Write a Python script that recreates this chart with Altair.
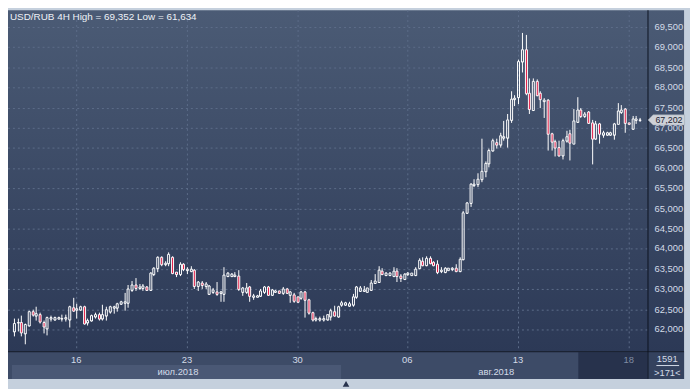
import altair as alt
import pandas as pd

# ---- data (USD/RUB, 4H bars) ----
bar_open = [61950, 62160, 62171, 61902, 62106, 62433, 62351, 62367, 62171, 62024,
            62260, 62253, 62270, 62260, 62270, 62253, 62531, 62490, 62490, 62555,
            62171, 62229, 62330, 62367, 62269, 62351, 62433, 62531, 62531, 62637,
            62662, 62662, 62988, 63103, 63021, 63021, 63045, 62988, 63372, 63511,
            63781, 63617, 63650, 63800, 63413, 63372, 63617, 63470, 63454, 63470,
            63070, 63152, 63086, 62882, 62923, 62939, 62900, 62882, 63331, 63315,
            63315, 63331, 62939, 62923, 63045, 62800, 62817, 62841, 62923, 63045,
            62857, 62939, 62947, 62898, 63005, 62866, 62857, 62800, 62776, 62939,
            62735, 62416, 62250, 62255, 62245, 62245, 62326, 62449, 62326, 62612,
            62620, 62596, 62612, 62800, 62964, 62950, 62939, 62988, 63143, 63168,
            63454, 63348, 63360, 63331, 63454, 63331, 63250, 63372, 63360, 63356,
            63511, 63699, 63593, 63756, 63674, 63617, 63438, 63429, 63480, 63495,
            63511, 63438, 63740, 64901, 65130, 65579, 65595, 65718, 65930, 66110,
            66437, 66641, 66584, 66764, 66764, 67188, 67703, 67760, 68643, 68929,
            67866, 67433, 68152, 67866, 67662, 67679, 66845, 66665, 66518, 66314,
            66681, 66861, 66616, 67155, 67433, 67294, 67392, 67131, 66722, 67090,
            66829, 66829, 66829, 66829, 67106, 67400, 67458, 67114, 66967, 67188,
            67188]
bar_high = [62270, 62269, 62351, 62150, 62474, 62490, 62555, 62408, 62229, 62310,
            62351, 62330, 62310, 62367, 62367, 62596, 62776, 62637, 62600, 62580,
            62270, 62380, 62408, 62408, 62612, 62555, 62596, 62596, 62662, 62710,
            62907, 63103, 63209, 63266, 63127, 63127, 63070, 63413, 63536, 63822,
            63822, 63699, 63903, 63822, 63429, 63658, 63642, 63536, 63560, 63495,
            63209, 63209, 63168, 63103, 63021, 63168, 62964, 63536, 63413, 63400,
            63429, 63470, 63045, 63143, 63086, 62882, 62860, 63005, 63086, 63086,
            63000, 62988, 62964, 63045, 63021, 62964, 62906, 62820, 62964, 62964,
            62760, 62449, 62310, 62310, 62335, 62380, 62514, 62596, 62596, 62719,
            62680, 62694, 62882, 63070, 63086, 63070, 63040, 63233, 63372, 63560,
            63511, 63413, 63429, 63536, 63511, 63372, 63390, 63429, 63400, 63536,
            63756, 63781, 63805, 63805, 63700, 63723, 63536, 63536, 63530, 63552,
            63617, 63781, 64950, 65171, 65636, 65718, 65865, 66723, 66175, 66478,
            66723, 66723, 66886, 67172, 67352, 67907, 67809, 68683, 69352, 69313,
            68234, 68218, 68193, 67907, 67744, 67703, 66886, 66706, 66682, 66723,
            66927, 66943, 67458, 67760, 67482, 67392, 67417, 67188, 67172, 67131,
            66927, 66900, 66900, 67131, 67621, 67564, 67498, 67130, 67294, 67294,
            67253]
bar_low = [61820, 61943, 61820, 61634, 62065, 62310, 62229, 62147, 61902, 61860,
           62188, 62230, 62250, 62188, 62200, 62049, 62440, 62270, 62470, 62122,
           62106, 62200, 62270, 62229, 62229, 62229, 62392, 62392, 62433, 62620,
           62474, 62531, 62923, 62964, 62988, 62964, 62964, 62964, 63331, 63413,
           63577, 63577, 63577, 63372, 63291, 63331, 63454, 63372, 63429, 63005,
           62964, 63005, 63005, 62866, 62882, 62841, 62678, 62678, 63290, 63300,
           63290, 62964, 62825, 62882, 62694, 62743, 62800, 62800, 62882, 62825,
           62840, 62906, 62890, 62866, 62880, 62661, 62661, 62660, 62743, 62286,
           62367, 62204, 62204, 62188, 62188, 62230, 62228, 62310, 62302, 62555,
           62600, 62555, 62555, 62760, 62923, 62923, 62920, 62964, 63127, 63152,
           63348, 63315, 63315, 63290, 63168, 63168, 63230, 63331, 63340, 63331,
           63495, 63577, 63577, 63609, 63577, 63372, 63397, 63397, 63460, 63454,
           63413, 63413, 63720, 64880, 65032, 65538, 65538, 65661, 65783, 66028,
           66420, 66478, 66518, 66682, 66518, 67131, 67540, 67581, 68381, 67809,
           67352, 67417, 67785, 67499, 67237, 66437, 66437, 66290, 66290, 66208,
           66640, 66191, 66600, 67131, 67253, 67253, 67090, 66093, 66698, 66600,
           66763, 66810, 66810, 66698, 67090, 67335, 66886, 67090, 66943, 67090,
           67155]
bar_close = [62150, 62180, 61926, 62122, 62449, 62367, 62392, 62188, 62065, 62286,
             62285, 62294, 62290, 62280, 62300, 62555, 62457, 62510, 62572, 62147,
             62229, 62351, 62360, 62269, 62367, 62490, 62555, 62555, 62637, 62694,
             62694, 63005, 63103, 63021, 63045, 63070, 62988, 63397, 63511, 63781,
             63617, 63642, 63862, 63397, 63364, 63617, 63495, 63495, 63495, 63070,
             63168, 63103, 63119, 63086, 62988, 62882, 62923, 63348, 63388, 63372,
             63360, 63005, 63021, 63021, 62825, 62841, 62841, 62964, 63045, 62857,
             62980, 62964, 62906, 63005, 62898, 62923, 62719, 62678, 62939, 62735,
             62416, 62253, 62269, 62269, 62269, 62367, 62473, 62351, 62555, 62653,
             62653, 62637, 62800, 63045, 63021, 62990, 63021, 63152, 63209, 63478,
             63372, 63388, 63388, 63454, 63315, 63266, 63372, 63397, 63390, 63495,
             63723, 63593, 63764, 63642, 63593, 63413, 63478, 63511, 63511, 63511,
             63438, 63740, 64900, 65146, 65603, 65603, 65718, 65930, 66126, 66437,
             66682, 66576, 66804, 66788, 67197, 67703, 67728, 68643, 68929, 67866,
             67458, 68152, 67809, 67703, 67679, 66845, 66665, 66518, 66314, 66682,
             66779, 66640, 67172, 67433, 67294, 67351, 67114, 66722, 67106, 66845,
             66886, 66870, 66870, 67106, 67417, 67433, 67114, 67106, 67212, 67212,
             67202]

price_ticks = [62000, 62500, 63000, 63500, 64000, 64500, 65000, 65500,
               66000, 66500, 67000, 67500, 68000, 68500, 69000, 69500]
day_labels = ["16", "23", "30", "06", "13", "18"]
day_bars = [17, 47, 77, 107, 137, 167]
month_labels = ["июл.2018", "авг.2018"]
month_start_bars = [0, 89]
title_text = "USD/RUB 4H High = 69,352 Low = 61,634"
last_price = 67202
bars_total_text = "1591"
bars_visible_text = ">171<"

# ---- tables ----
df = pd.DataFrame({"bar": list(range(len(bar_open))), "open": bar_open,
                   "high": bar_high, "low": bar_low, "close": bar_close})
df["top"] = df[["open", "close"]].max(axis=1)
df["bottom"] = df[["open", "close"]].min(axis=1)

days = pd.DataFrame({"bar": day_bars, "label": day_labels,
                     "last": [i == len(day_labels) - 1 for i in range(len(day_labels))]})
month_end = month_start_bars[1:] + [len(bar_open) + 2]
months = pd.DataFrame({"label": month_labels,
                       "center": [(a + b) / 2 for a, b in zip(month_start_bars, month_end)]})
ticks = pd.DataFrame({"price": price_ticks})

W, H = 647, 345
FONT = "Liberation Sans"
LABEL = "#d3dbe8"
xs = alt.Scale(domain=[-0.264, 170.8], nice=False, zero=False, round=True)
ys = alt.Scale(domain=[61461, 69917], nice=False, zero=False, round=True)
one = alt.Data(values=[{}])


def X(field):
    return alt.X(field, scale=xs, axis=None)


def Y(field):
    return alt.Y(field, scale=ys, axis=None)


grad = alt.LinearGradient(gradient="linear", x1=0, x2=0, y1=0, y2=1,
                          stops=[alt.GradientStop(color="#4b5b75", offset=0),
                                 alt.GradientStop(color="#2c3956", offset=1)])

bg = alt.Chart(one).mark_rect(fill=grad).encode(
    x=alt.value(0), x2=alt.value(684), y=alt.value(0), y2=alt.value(H))
band = alt.Chart(one).mark_rect(fill="#3d4b67").encode(
    x=alt.value(0), x2=alt.value(684), y=alt.value(H), y2=alt.value(373))
jul_box = alt.Chart(one).mark_rect(fill="#4a5875").encode(
    x=alt.value(4), x2=alt.value(337), y=alt.value(359), y2=alt.value(373))
dark_box = alt.Chart(one).mark_rect(fill="#27324c").encode(
    x=alt.value(577), x2=alt.value(W), y=alt.value(H + 1), y2=alt.value(373))
corner_box = alt.Chart(one).mark_rect(fill="#34425e").encode(
    x=alt.value(W + 1), x2=alt.value(684), y=alt.value(H + 1), y2=alt.value(373))
sep_v = alt.Chart(one).mark_rule(color="#0d1320", strokeWidth=1).encode(
    x=alt.value(W + 0.5), y=alt.value(0), y2=alt.value(373))
sep_h = alt.Chart(one).mark_rule(color="#0d1320", strokeWidth=1).encode(
    x=alt.value(0), x2=alt.value(684), y=alt.value(H + 0.5))
arrow = alt.Chart(one).mark_point(shape="triangle-up", filled=True, size=45,
                                  color="#27324c", opacity=1).encode(
    x=alt.value(342), y=alt.value(378))

hgrid = alt.Chart(ticks).mark_rule(color="#5c6c89", strokeWidth=1, strokeDash=[2, 3],
                                   yOffset=0.5).encode(
    y=Y("price:Q"), x=alt.value(0), x2=alt.value(W))
vgrid = alt.Chart(days).mark_rule(color="#5c6c89", strokeWidth=1, strokeDash=[2, 3],
                                  xOffset=0.5).encode(
    x=X("bar:Q"), y=alt.value(0), y2=alt.value(H))

wick_up = alt.Chart(df).mark_rule(color="#ffffff", strokeWidth=1, xOffset=0.5).encode(
    x=X("bar:Q"), y=Y("high:Q"), y2="top:Q")
wick_dn = alt.Chart(df).mark_rule(color="#ffffff", strokeWidth=1, xOffset=0.5).encode(
    x=X("bar:Q"), y=Y("bottom:Q"), y2="low:Q")

bodies = alt.Chart(df).mark_bar(size=2, stroke="#ffffff", strokeWidth=1,
                                xOffset=0.5, yOffset=0.5).encode(
    x=X("bar:Q"), y=Y("bottom:Q"), y2="top:Q",
    fill=alt.condition("datum.close < datum.open", alt.value("#e0103c"), alt.value("transparent")))

ylabels = alt.Chart(ticks).mark_text(font=FONT, fontSize=9.5, baseline="middle",
                                     align="left", color=LABEL).encode(
    x=alt.value(654), y=Y("price:Q"), text=alt.Text("price:Q", format=",d"))

day_text = alt.Chart(days).mark_text(font=FONT, fontSize=9.5, baseline="middle").encode(
    x=X("bar:Q"), y=alt.value(354), text="label:N",
    color=alt.condition("datum.last", alt.value("#7f8ca3"), alt.value(LABEL)))
month_text = alt.Chart(months).mark_text(font=FONT, fontSize=9.5, baseline="middle",
                                         color=LABEL).encode(
    x=X("center:Q"), y=alt.value(366), text="label:N")

title = alt.Chart(alt.Data(values=[{"t": title_text}])).mark_text(
    font=FONT, fontSize=10, align="left", baseline="middle", color="#eef2f7").encode(
    x=alt.value(2), y=alt.value(7), text="t:N")

price_df = pd.DataFrame({"price": [last_price]})
tag_shape = "M -1 0 L -0.72 -0.28 L 1 -0.28 L 1 0.28 L -0.72 0.28 Z"
tag = alt.Chart(price_df).mark_point(shape=tag_shape, size=1369, filled=True,
                                     fill="#cdd1d8", stroke="#9aa3b0", strokeWidth=0.5,
                                     opacity=1).encode(
    x=alt.value(666), y=Y("price:Q"))
tag_text = alt.Chart(price_df).mark_text(font=FONT, fontSize=9, baseline="middle",
                                         align="left", color="#1d2433").encode(
    x=alt.value(655), y=Y("price:Q"),
    text=alt.Text("price:Q", format=",d"))

total_text = alt.Chart(alt.Data(values=[{"t": bars_total_text}])).mark_text(
    font=FONT, fontSize=9.5, baseline="middle", color=LABEL).encode(
    x=alt.value(667), y=alt.value(353), text="t:N")
visible_text = alt.Chart(alt.Data(values=[{"t": bars_visible_text}])).mark_text(
    font=FONT, fontSize=9.5, baseline="middle", color=LABEL).encode(
    x=alt.value(667), y=alt.value(367), text="t:N")
count_rule = alt.Chart(one).mark_rule(color=LABEL, strokeWidth=1).encode(
    x=alt.value(656), x2=alt.value(679), y=alt.value(359.5))

chart = alt.layer(
    bg, band, jul_box, dark_box, corner_box, arrow, hgrid, vgrid,
    wick_up, wick_dn, bodies, sep_v, sep_h, ylabels, day_text, month_text, title,
    tag, tag_text, total_text, visible_text, count_rule
).properties(
    width=W, height=H,
    padding={"left": 0, "top": 0, "right": 43, "bottom": 36},
    autosize=alt.AutoSizeParams(type="none"),
    background="#c5d0dd",
).configure_view(stroke=None)

chart.save("out.html", embed_options={"renderer": "svg", "actions": False})
